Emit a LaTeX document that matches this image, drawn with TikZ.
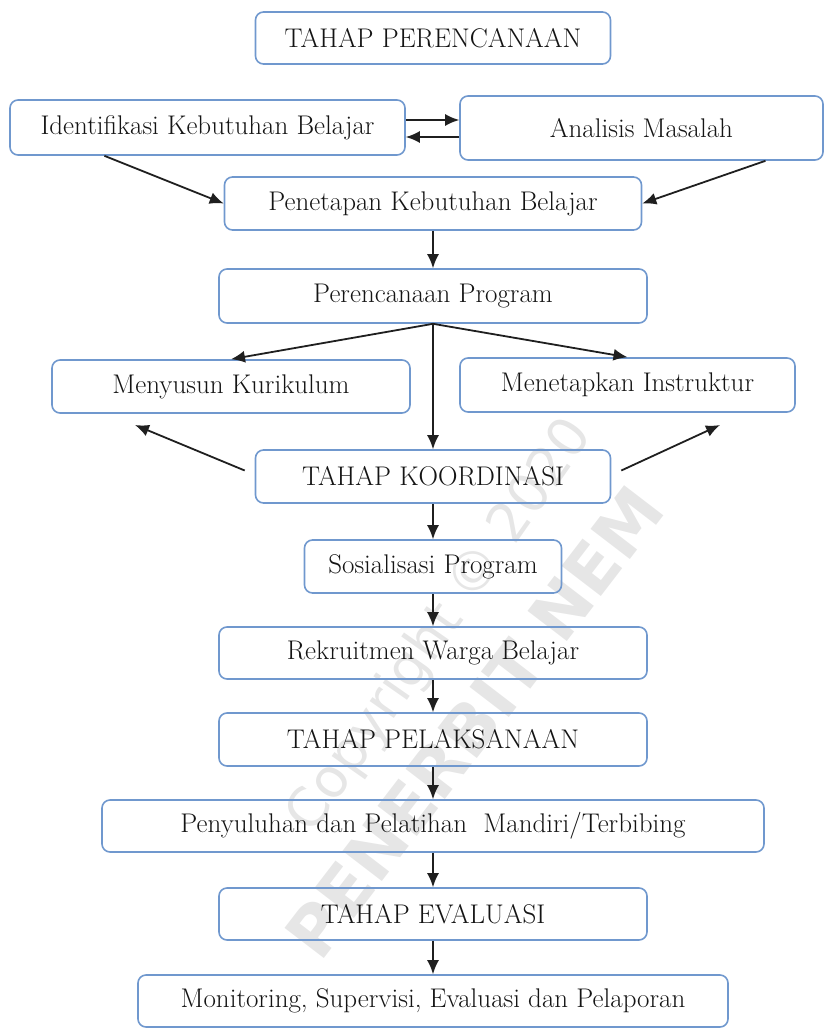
\documentclass[tikz,border=0pt]{standalone}
\usepackage{fontspec}
\newfontfamily\wmfont{DejaVu Sans}
\usetikzlibrary{arrows.meta,calc}
\definecolor{boxblue}{RGB}{112,152,206}
\definecolor{wmgray}{RGB}{230,230,230}
\tikzset{
  box/.style={draw=boxblue, line width=1.6pt, rounded corners=8pt,
    inner sep=0pt, font=\fontsize{27}{31}\selectfont, text=black!92},
  arr/.style={-{Latex[length=14pt,width=12pt]}, line width=1.8pt, draw=black!88},
  wm/.style={text=wmgray, inner sep=0pt}
}
\begin{document}
\begin{tikzpicture}[x=1pt,y=-1pt]
\useasboundingbox (0,0) rectangle (825,1029);
% watermark (behind everything)
\node[wm, rotate=55, font=\wmfont\fontsize{54}{56}\selectfont] (wm1) at (441,626) {Copyright © 2020};
\node[wm, rotate=52.5, font=\wmfont\bfseries\fontsize{68}{70}\selectfont] (wm2) at (474,722) {PENERBIT NEM};
% boxes
\node[box, minimum width=355, minimum height=52] (pr)  at (433,38)    {TAHAP PERENCANAAN};
\node[box, minimum width=395, minimum height=55] (idk) at (207.5,127.5) {Identifikasi Kebutuhan Belajar};
\node[box, minimum width=363, minimum height=64] (an)  at (641.5,128)  {Analisis Masalah};
\node[box, minimum width=417, minimum height=53] (pkb) at (433,203.5)  {Penetapan Kebutuhan Belajar};
\node[box, minimum width=428, minimum height=54] (pp)  at (433,296)    {Perencanaan Program};
\node[box, minimum width=358, minimum height=53] (mk)  at (231,386.5)  {Menyusun Kurikulum};
\node[box, minimum width=335, minimum height=54] (mi)  at (627.5,385)  {Menetapkan Instruktur};
\node[box, minimum width=355, minimum height=53] (tk)  at (433,476.5)  {TAHAP KOORDINASI};
\node[box, minimum width=257, minimum height=53] (sp)  at (433,566.5)  {Sosialisasi Program};
\node[box, minimum width=428, minimum height=52] (rw)  at (433,653)    {Rekruitmen Warga Belajar};
\node[box, minimum width=428, minimum height=53] (tp)  at (433,739.5)  {TAHAP PELAKSANAAN};
\node[box, minimum width=662, minimum height=52] (pen) at (433,826)    {Penyuluhan dan Pelatihan\ \ Mandiri/Terbibing};
\node[box, minimum width=428, minimum height=52] (te)  at (433,914)    {TAHAP EVALUASI};
\node[box, minimum width=590, minimum height=52] (mon) at (433,1001)   {Monitoring, Supervisi, Evaluasi dan Pelaporan};
% free ends
\coordinate (kl) at (135,425);
\coordinate (kr) at (720,425);
% connectors
\draw[arr] ([yshift=7.5]idk.east) -- ([yshift=7.5]idk.east -| an.west);
\draw[arr] ([yshift=-9.5]idk.east -| an.west) -- ([yshift=-9.5]idk.east);
\draw[arr] ($(idk.south west)!0.24!(idk.south east)$) -- (pkb.west);
\draw[arr] ($(an.south west)!0.84!(an.south east)$) -- (pkb.east);
\draw[arr] (pkb) -- (pp);
\draw[arr] (pp.south) -- (mk.north);
\draw[arr] (pp.south) -- (mi.north);
\draw[arr] (pp.south) -- (tk.north);
\draw[arr] ([xshift=-10,yshift=6]tk.west) -- (kl);
\draw[arr] ([xshift=10,yshift=6]tk.east) -- (kr);
\draw[arr] (tk) -- (sp);
\draw[arr] (sp) -- (rw);
\draw[arr] (rw) -- (tp);
\draw[arr] (tp) -- (pen);
\draw[arr] (pen) -- (te);
\draw[arr] (te) -- (mon);
\end{tikzpicture}
\end{document}
